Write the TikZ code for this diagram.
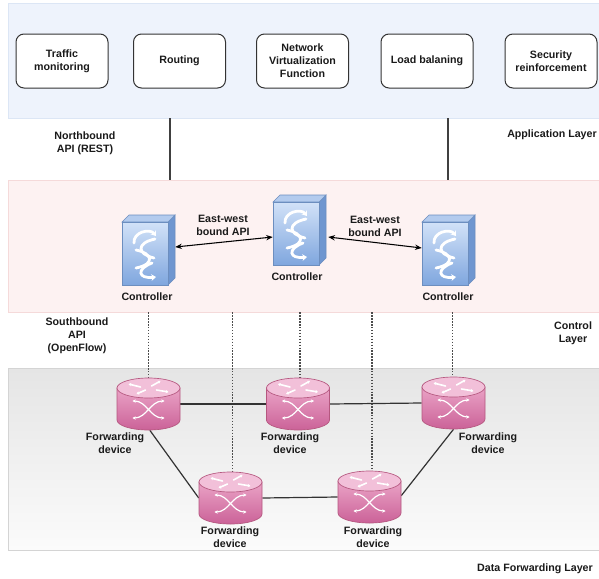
\documentclass[tikz,border=0pt]{standalone}
\usepackage{fontspec}
\setmainfont{Liberation Sans}
\usetikzlibrary{arrows.meta,calc}
\definecolor{appfill}{HTML}{EEF3FC}
\definecolor{appline}{HTML}{DCE6F5}
\definecolor{ctlfill}{HTML}{FDF2F2}
\definecolor{ctlline}{HTML}{F5DADA}
\definecolor{datatop}{HTML}{E5E5E5}
\definecolor{databot}{HTML}{FBFBFB}
\definecolor{dataline}{HTML}{D4D4D4}
\definecolor{cfronttop}{HTML}{D2E2F8}
\definecolor{cfrontbot}{HTML}{7FA6DE}
\definecolor{ctopc}{HTML}{B3CBEE}
\definecolor{csidec}{HTML}{6F96D0}
\definecolor{cline}{HTML}{6C8EBF}
\definecolor{rtop}{HTML}{F2C0D9}
\definecolor{rbodytop}{HTML}{EAA3C6}
\definecolor{rbodybot}{HTML}{CB6298}
\definecolor{rline}{HTML}{B5577F}
\definecolor{txt}{HTML}{1A1A1A}
\tikzset{
  lbl/.style={font=\bfseries\fontsize{8}{9.75}\selectfont, align=center, text=txt, inner sep=0pt},
  appbox/.style={lbl, draw=black!80, line width=0.75pt, rounded corners=6pt, fill=white,
     minimum width=69pt, minimum height=40.5pt},
  band/.style={minimum width=443.25pt, inner sep=0pt, line width=0.5pt},
  ctrlnode/.style={minimum width=39.75pt, minimum height=52.5pt, inner sep=0pt},
  fwnode/.style={minimum width=47.25pt, minimum height=39pt, inner sep=0pt},
  apiline/.style={draw=black!75, line width=0.8pt},
  dotline/.style={draw=black!70, line width=0.9pt, dash pattern=on 1.1pt off 1.1pt},
  link/.style={draw=black!80, line width=0.9pt},
  ewarrow/.style={draw=black, line width=0.8pt, {Stealth[length=5pt,width=4pt]}-{Stealth[length=5pt,width=4pt]}},
  swirl/.style={draw=white, line width=2.1pt, line cap=round},
  swirlarrow/.style={swirl, -{Stealth[length=3.5pt,width=5pt]}},
  xarrow/.style={draw=white, line width=0.9pt, {Stealth[length=2.4pt,width=2.6pt]}-{Stealth[length=2.4pt,width=2.6pt]}},
  topmark/.style={draw=white, line width=1.2pt, line cap=round, -{Stealth[length=2pt,width=2.5pt]}}
}
\newcommand\ctrlbox[3]{% name, left x, top y of whole box
  \node[ctrlnode] (#1) at (#2+26.5,#3+35) {};
  \path[fill=csidec, draw=cline, line width=0.4pt] (#2+46,#3+7) -- (#2+53,#3) -- (#2+53,#3+63) -- (#2+46,#3+70) -- cycle;
  \path[fill=ctopc, draw=cline, line width=0.4pt] (#2,#3+7) -- (#2+7,#3) -- (#2+53,#3) -- (#2+46,#3+7) -- cycle;
  \path[top color=cfronttop, bottom color=cfrontbot, draw=cline, line width=0.4pt] (#2,#3+7) rectangle (#2+46,#3+70);
  \draw[swirlarrow] (#2+12,#3+28) .. controls (#2+11,#3+17) and (#2+28,#3+13) .. (#2+34,#3+21);
  \draw[swirl] (#2+33,#3+24) .. controls (#2+14,#3+28) and (#2+15,#3+39) .. (#2+32,#3+43);
  \draw[swirl] (#2+14,#3+35) .. controls (#2+30,#3+38) and (#2+34,#3+49) .. (#2+14,#3+53);
  \draw[swirlarrow] (#2+30,#3+48) .. controls (#2+14,#3+54) and (#2+16,#3+64) .. (#2+34,#3+62);
}
\newcommand\fwdev[3]{% name, center x, center y
  \node[fwnode] (#1) at (#2,#3) {};
  \path[top color=rbodytop, bottom color=rbodybot, draw=rline, line width=0.5pt]
    (#2-31.5,#3-16) -- (#2-31.5,#3+16) arc[start angle=180, end angle=360, x radius=23.625pt, y radius=7.5pt]
    -- (#2+31.5,#3-16) -- cycle;
  \path[fill=rtop, draw=rline, line width=0.5pt] (#2,#3-16) ellipse[x radius=23.625pt, y radius=7.5pt];
  \draw[topmark] (#2-8,#3-17) -- (#2-20,#3-20);
  \draw[topmark] (#2+3,#3-18) -- (#2+12,#3-23);
  \draw[topmark] (#2-3,#3-14) -- (#2-12,#3-10);
  \draw[topmark] (#2+8,#3-14) -- (#2+20,#3-12);
  \draw[xarrow] (#2-16,#3-3) to[out=0,in=180] (#2+16,#3+14);
  \draw[xarrow] (#2-16,#3+14) to[out=0,in=180] (#2+16,#3-3);
}
\begin{document}
\begin{tikzpicture}[x=0.75pt,y=-0.75pt]
\useasboundingbox (0,0) rectangle (599,578);
\fill[white] (0,0) rectangle (599,578);
% bands
\node[band, fill=appfill, draw=appline, minimum height=86.25pt] (aband) at (303.5,60.5) {};
\node[band, fill=ctlfill, draw=ctlline, minimum height=99pt] (cband) at (303.5,246) {};
\node[band, top color=datatop, bottom color=databot, draw=dataline, minimum height=136.5pt] (dband) at (303.5,459) {};
% application boxes
\node[appbox] (tm) at (62,61) {Traffic\\monitoring};
\node[appbox] (rt) at (179.5,61) {Routing};
\node[appbox] (nvf) at (302.5,61) {Network\\Virtualization\\Function};
\node[appbox] (lb) at (427,61) {Load balaning};
\node[appbox] (sr) at (551,61) {Security\\reinforcement};
% northbound lines
\coordinate (nb1) at (170,0);
\coordinate (nb2) at (448,0);
\draw[apiline] (aband.south -| nb1) -- (cband.north -| nb1);
\draw[apiline] (aband.south -| nb2) -- (cband.north -| nb2);
% layer labels
\node[lbl] (nbl) at (85,143) {Northbound\\API (REST)};
\node[lbl] (all) at (552,135) {Application Layer};
\node[lbl] (sbl) at (77,336) {Southbound\\API\\(OpenFlow)};
\node[lbl] (cll) at (573,333) {Control\\Layer};
\node[lbl] (dfl) at (535,569) {Data Forwarding Layer};
% controllers
\ctrlbox{c1}{122}{215}
\ctrlbox{c2}{273}{195}
\ctrlbox{c3}{422}{215}
\node[lbl] (c1l) at (147,297) {Controller};
\node[lbl] (c2l) at (297,277) {Controller};
\node[lbl] (c3l) at (448,297) {Controller};
\draw[ewarrow] ([yshift=2.25pt]c1.east) -- ([yshift=-5.25pt]c2.west);
\draw[ewarrow] ([xshift=1.5pt,yshift=-5.25pt]c2.east) -- ([yshift=1.5pt]c3.west);
\node[lbl] (ew1) at (223,225.5) {East-west\\bound API};
\node[lbl] (ew2) at (375,226) {East-west\\bound API};
% forwarding devices (anchors first)
\node[fwnode] (r1) at (148.5,404) {};
\node[fwnode] (r2) at (298,404) {};
\node[fwnode] (r3) at (453.5,403) {};
\node[fwnode] (r4) at (230.5,498) {};
\node[fwnode] (r5) at (369.5,497) {};
% dotted southbound lines
\draw[dotline] (cband.south -| r1.north) -- (r1.north);
\draw[dotline] ([xshift=1.2pt]cband.south -| r4.north) -- ([xshift=1.2pt]r4.north);
\draw[dotline] ([xshift=1.5pt]cband.south -| r2.north) -- ([xshift=1.5pt]r2.north);
\draw[dotline] ([xshift=1.8pt]cband.south -| r5.north) -- ([xshift=1.8pt]r5.north);
\draw[dotline] ([xshift=-1pt]cband.south -| r3.north) -- ([xshift=-1pt]r3.north);
% links
\draw[link] (r1.east) -- (r2.west);
\draw[link] (r2.east) -- (r3.west);
\draw[link] ([xshift=1pt]r1.south) -- (r4.west);
\draw[link] (r4.east) -- (r5.west);
\draw[link] ([yshift=1pt]r5.east) -- (r3.south);
% router drawings
\fwdev{r1d}{148.5}{404}
\fwdev{r2d}{298}{404}
\fwdev{r3d}{453.5}{403}
\fwdev{r4d}{230.5}{498}
\fwdev{r5d}{369.5}{497}
\node[lbl] (r1l) at (115,443) {Forwarding\\device};
\node[lbl] (r2l) at (290,443.5) {Forwarding\\device};
\node[lbl] (r3l) at (488,443) {Forwarding\\device};
\node[lbl] (r4l) at (230,537) {Forwarding\\device};
\node[lbl] (r5l) at (373,537) {Forwarding\\device};
\end{tikzpicture}
\end{document}
